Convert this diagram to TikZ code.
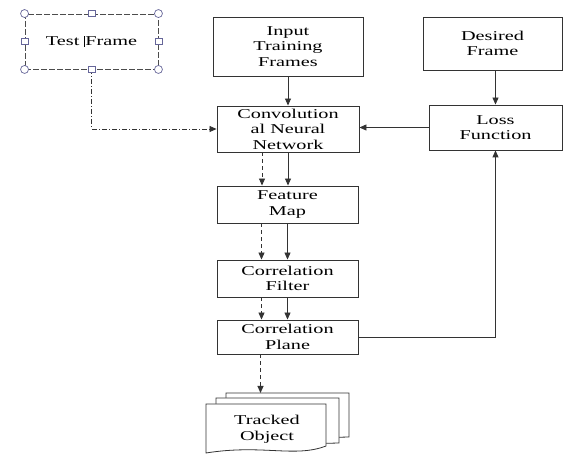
\documentclass[tikz,border=0pt]{standalone}
\usepackage{fontspec}
\setmainfont{Liberation Serif}
\newfontfamily\widefont{Liberation Serif}[FakeStretch=1.5]
\usetikzlibrary{positioning, arrows.meta, calc}

\begin{document}
\begin{tikzpicture}[x=1pt, y=-1pt,
    box/.style={draw=black!80, line width=0.9pt, rectangle, fill=white,
                font=\widefont\fontsize{13.5}{15.5}\selectfont, align=center, inner sep=0pt},
    arrow/.style={-{Triangle[length=7pt, width=6pt]}, line width=0.9pt, draw=black!80},
    dasharrow/.style={arrow, dash pattern=on 4pt off 3pt},
    handle/.style={draw=blue!20!gray, fill=white, line width=0.7pt},
    page/.style={draw=black!80, line width=0.8pt, fill=white}]
  \useasboundingbox (0,0) rectangle (563,454);

  \node[box, dash pattern=on 6pt off 2pt, draw=black!70, minimum width=133pt, minimum height=55pt] (test) at (91.5,41.5)
    {Test \rule[-1.5pt]{0.9pt}{11pt}Frame};

  \node[box, minimum width=150pt, minimum height=59pt] (input) at (288,46.5) {Input\\Training\\Frames};
  \node[box, minimum width=139pt, minimum height=53pt] (desired) at (492.5,43.5) {Desired\\Frame};
  \node[box, minimum width=142pt, minimum height=46pt] (cnn) at (288,129) {Convolution\\al Neural\\Network};
  \node[box, minimum width=133pt, minimum height=45pt] (loss) at (495.5,127.5) {Loss\\Function};
  \node[box, minimum width=141pt, minimum height=37pt] (feat) at (287.5,204.5) {Feature\\Map};
  \node[box, minimum width=141pt, minimum height=37pt] (filt) at (287.5,278.5) {Correlation\\Filter};
  \node[box, minimum width=141pt, minimum height=34pt] (plane) at (287.5,337) {Correlation\\Plane};

  % tracked object pages
  \draw[page] (226,393) -- (349,393) -- (349,437) -- (226,440) -- cycle;
  \draw[page] (216,398) -- (339,398) -- (339,443) -- (216,446) -- cycle;
  \draw[page] (206,404) -- (326,404) -- (326,446) .. controls (295,458) and (262,444) .. (206,453) -- cycle;
  \coordinate (trk) at (287,393);
  \node[font=\widefont\fontsize{13.5}{15.5}\selectfont, align=center] (tracked) at (267,429.5) {Tracked\\Object};

  \draw[arrow] (input.south) -- (input.south |- cnn.north);
  \draw[arrow] (loss.north |- desired.south) -- (loss.north);
  \draw[arrow] (loss.west) -- (cnn.east |- loss.west);
  \draw[arrow] (cnn.south) -- (cnn.south |- feat.north);
  \draw[dasharrow] ([xshift=-26pt]cnn.south) -- ([xshift=-26pt]cnn.south |- feat.north);
  \draw[arrow] (feat.south) -- (filt.north);
  \draw[dasharrow] ([xshift=-26pt]feat.south) -- ([xshift=-26pt]filt.north);
  \draw[arrow] (filt.south) -- (plane.north);
  \draw[dasharrow] ([xshift=-26pt]filt.south) -- ([xshift=-26pt]plane.north);
  \draw[arrow] (plane.east) -| (loss.south);
  \draw[dasharrow] ([xshift=-27pt]plane.south) -- ([xshift=-27pt]plane.south |- trk);
  \draw[arrow, line width=0.8pt, dash pattern=on 5pt off 2pt on 1pt off 2pt] (test.south) |- (cnn.west);

  % selection handles
  \foreach \c in {north west, north east, south west, south east}
    \draw[handle] (test.\c) circle (4pt);
  \foreach \c in {north, south, east, west}
    \draw[handle] ($(test.\c)+(-3.5,-3)$) rectangle ++(7,6);
\end{tikzpicture}
\end{document}
